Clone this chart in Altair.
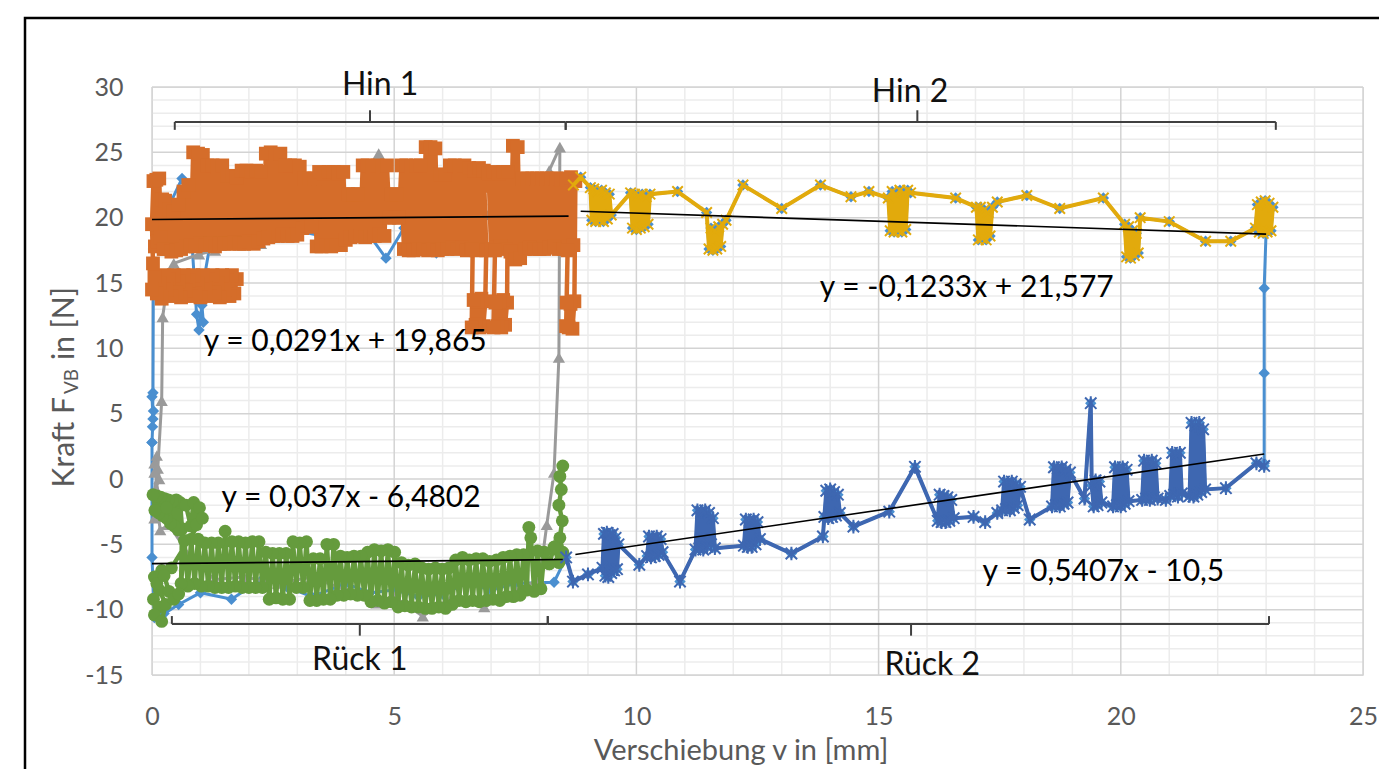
import altair as alt
import pandas as pd

FONT = "Lato"
GREY_TXT = "#595959"

# ---------------- data ----------------
# Hin 1 (orange squares): lower band near 15 N (x descending), then main band
HIN1_LOW_BAND = [
    (1.75, 15.3), (1.70, 14.2), (1.65, 15.6), (1.60, 14.0), (1.55, 15.2), (1.50, 14.5), (1.45, 15.6),
    (1.40, 13.9), (1.35, 15.0), (1.30, 14.3), (1.25, 15.6), (1.20, 14.0), (1.15, 15.3), (1.10, 14.6),
    (1.05, 15.6), (1.00, 13.9), (0.95, 15.0), (0.90, 14.2), (0.85, 15.6), (0.80, 14.0), (0.75, 15.2),
    (0.70, 14.4), (0.65, 15.6), (0.60, 13.9), (0.55, 15.1), (0.50, 14.3), (0.45, 15.6), (0.40, 14.0),
    (0.35, 15.3), (0.30, 14.5), (0.25, 15.6), (0.20, 13.8), (0.15, 15.0), (0.10, 14.2), (0.05, 15.5),
    (0.00, 14.5), (0.02, 16.5),
]
HIN1_MAIN = [
    (0.00, 19.5), (0.03, 22.8), (0.06, 17.8), (0.09, 22.9), (0.12, 18.2), (0.15, 23.0), (0.18, 18.5),
    (0.21, 21.4), (0.24, 17.6), (0.27, 21.3), (0.30, 17.6), (0.35, 20.6), (0.40, 17.4), (0.45, 20.5),
    (0.50, 17.5), (0.55, 21.0), (0.60, 17.6), (0.65, 22.0), (0.70, 17.8), (0.75, 22.5), (0.80, 17.9),
    (0.85, 25.0), (0.90, 17.8), (0.95, 24.9), (1.00, 18.0), (1.05, 24.8), (1.10, 17.9), (1.15, 24.0),
    (1.20, 18.0), (1.25, 24.0), (1.30, 17.8), (1.35, 23.9), (1.40, 18.0), (1.45, 24.0), (1.50, 18.0),
    (1.55, 23.2), (1.60, 18.0), (1.65, 23.2), (1.70, 18.1), (1.75, 23.1), (1.80, 18.0), (1.85, 23.6),
    (1.90, 18.0), (1.95, 23.6), (2.00, 18.2), (2.05, 23.5), (2.10, 18.0), (2.15, 23.6), (2.20, 18.2),
    (2.25, 23.5), (2.30, 18.4), (2.35, 24.9), (2.40, 18.5), (2.45, 25.0), (2.50, 18.6), (2.55, 24.8),
    (2.60, 18.6), (2.65, 24.9), (2.70, 18.7), (2.75, 24.0), (2.80, 18.6), (2.85, 24.0), (2.90, 18.6),
    (2.95, 24.0), (3.00, 18.7), (3.05, 23.9), (3.10, 19.2), (3.15, 23.0), (3.20, 19.4), (3.25, 23.0),
    (3.30, 19.3), (3.35, 23.0), (3.40, 17.8), (3.45, 23.5), (3.50, 17.8), (3.55, 23.4), (3.60, 17.9),
    (3.65, 23.5), (3.70, 17.8), (3.75, 23.5), (3.80, 17.9), (3.85, 23.4), (3.90, 17.9), (3.95, 23.5),
    (4.00, 18.3), (4.05, 21.8), (4.10, 18.5), (4.15, 21.8), (4.20, 18.6), (4.25, 21.8), (4.30, 18.6),
    (4.35, 24.0), (4.40, 18.5), (4.45, 24.0), (4.50, 18.6), (4.55, 23.9), (4.60, 18.6), (4.65, 24.0),
    (4.70, 18.7), (4.75, 23.9), (4.80, 18.6), (4.85, 24.0), (4.90, 20.0), (4.95, 21.8), (5.00, 20.0),
    (5.05, 21.8), (5.10, 20.0), (5.15, 24.0), (5.20, 17.6), (5.25, 24.0), (5.30, 17.5), (5.35, 23.9),
    (5.40, 17.5), (5.45, 24.0), (5.50, 17.6), (5.55, 24.0), (5.60, 17.6), (5.65, 25.4), (5.70, 17.5),
    (5.75, 25.4), (5.80, 17.6), (5.85, 25.3), (5.90, 17.5), (5.95, 23.3), (6.00, 17.6), (6.05, 23.3),
    (6.10, 17.6), (6.15, 24.0), (6.20, 17.7), (6.25, 24.0), (6.30, 17.6), (6.35, 23.9), (6.40, 17.7),
    (6.45, 24.0), (6.50, 17.5), (6.55, 23.8), (6.60, 17.6), (6.65, 23.6), (6.70, 17.5), (6.75, 23.8),
    (6.80, 17.6), (6.85, 23.6), (6.90, 17.5),
    # dip to 12 N (6.55 .. 6.9)
    (6.88, 13.6), (6.84, 11.7), (6.80, 13.8), (6.76, 11.6), (6.72, 13.6), (6.68, 11.8), (6.64, 13.7),
    (6.60, 11.6), (6.62, 17.6),
    (6.95, 23.4), (7.00, 17.6), (7.05, 23.5), (7.10, 17.7), (7.15, 23.4), (7.20, 17.8), (7.25, 23.5),
    (7.30, 17.6), (7.35, 23.5),
    # dip to 12 N (7.0 .. 7.35)
    (7.33, 13.5), (7.29, 11.8), (7.25, 13.7), (7.21, 11.6), (7.17, 13.6), (7.13, 11.7), (7.09, 13.5),
    (7.05, 11.6), (7.08, 17.5),
    (7.40, 17.4), (7.45, 25.5), (7.50, 16.8), (7.55, 25.4), (7.60, 16.9), (7.65, 23.0), (7.70, 17.6),
    (7.75, 23.0), (7.80, 17.7), (7.85, 23.0), (7.90, 17.6), (7.95, 23.0), (8.00, 17.6), (8.05, 23.0),
    (8.10, 17.6), (8.15, 23.0), (8.20, 17.7), (8.25, 23.0), (8.30, 17.8), (8.35, 23.0), (8.40, 17.6),
    (8.45, 22.9), (8.50, 17.6), (8.55, 23.0), (8.60, 17.8), (8.65, 23.1), (8.70, 17.9), (8.74, 22.8),
    # dip to 12 N at the end of Hin 1
    (8.72, 13.6), (8.68, 11.5), (8.64, 13.4), (8.60, 11.6), (8.56, 13.5), (8.55, 11.7), (8.58, 17.5),
]

# grey triangles: first cycle (0 .. 8.5 mm)
GRAY_CYCLE = [
    (0.05, 0.5), (0.10, 1.8), (0.15, 0.0), (0.05, -1.0), (0.12, 0.8), (0.20, 6.0), (0.22, 12.4),
    (0.30, 14.5), (0.45, 16.5), (0.97, 17.2), (1.30, 17.5), (1.85, 17.9), (2.25, 18.0), (2.60, 18.5),
    (3.00, 18.8), (3.50, 19.0), (4.00, 19.5), (4.40, 21.0), (4.68, 24.9), (4.90, 20.5), (5.50, 20.0),
    (6.00, 20.5), (6.50, 20.0), (7.00, 20.5), (7.50, 21.0), (8.00, 22.0), (8.20, 23.6), (8.42, 25.4),
    (8.40, 9.3), (8.30, 0.5), (8.15, -3.5), (8.00, -7.7), (7.50, -8.5), (6.86, -9.8), (6.20, -9.0),
    (5.59, -10.5), (5.00, -9.0), (4.64, -9.5), (4.00, -8.5), (3.30, -7.5), (2.60, -8.0), (1.90, -7.5),
    (1.29, -7.7), (0.80, -6.0), (0.35, -3.5), (0.17, -3.9), (0.10, -2.0), (0.05, -3.0), (0.12, -1.0),
    (0.05, 1.2),
]

# Hin 2 (yellow x markers)
HIN2 = [
    (8.70, 22.5), (8.85, 23.1), (9.05, 22.3),
    (9.08, 19.8), (9.12, 22.2), (9.16, 19.7), (9.20, 22.0), (9.24, 19.8), (9.28, 22.1), (9.32, 19.7),
    (9.36, 21.9), (9.40, 19.9), (9.44, 21.8), (9.48, 20.2),
    (9.88, 21.9), (9.92, 19.2), (9.96, 21.8), (10.00, 19.1), (10.04, 21.7), (10.08, 19.2), (10.12, 21.8),
    (10.16, 19.3), (10.20, 21.6), (10.24, 19.5), (10.28, 21.8),
    (10.85, 22.0), (11.45, 20.4),
    (11.50, 17.6), (11.54, 19.2), (11.58, 17.5), (11.62, 19.0), (11.66, 17.6), (11.70, 19.3),
    (11.74, 17.8), (11.78, 19.5), (11.85, 19.8),
    (12.20, 22.5), (13.00, 20.7), (13.80, 22.5), (14.43, 21.6), (14.80, 22.0), (15.20, 21.5),
    (15.24, 19.0), (15.28, 22.0), (15.32, 18.9), (15.36, 21.8), (15.40, 19.0), (15.44, 22.1),
    (15.48, 18.9), (15.52, 21.9), (15.56, 19.1), (15.60, 22.1), (15.66, 21.9),
    (16.59, 21.5), (17.02, 20.8),
    (17.06, 18.3), (17.10, 20.8), (17.14, 18.4), (17.18, 20.6), (17.22, 18.3), (17.26, 20.4),
    (17.30, 18.6), (17.35, 20.8), (17.45, 21.2),
    (18.06, 21.7), (18.74, 20.7), (19.64, 21.5), (20.08, 19.5),
    (20.12, 17.0), (20.16, 19.3), (20.20, 16.9), (20.24, 19.0), (20.28, 17.1), (20.32, 18.8),
    (20.36, 17.3), (20.40, 20.0),
    (21.00, 19.7), (21.75, 18.2), (22.27, 18.2), (22.78, 19.2),
    (22.82, 21.0), (22.86, 18.9), (22.90, 21.2), (22.94, 18.8), (22.98, 21.3), (23.02, 18.9),
    (23.06, 21.1), (23.10, 19.0), (23.14, 20.8), (23.00, 19.0),
]

# Rueck 1 (green circles), from x = 8.5 back to 0
RUECK1 = [
    (8.48, 1.0), (8.42, 0.2), (8.45, -0.8), (8.40, -2.0), (8.47, -3.2), (8.42, -4.5), (8.48, -5.6),
    (8.40, -6.4), (8.30, -5.2), (8.20, -6.5),
    (8.10, -5.6), (8.03, -8.4), (7.96, -5.5), (7.89, -8.6), (7.82, -4.5), (7.78, -3.7), (7.74, -8.5),
    (7.67, -5.8), (7.60, -8.9), (7.53, -5.8), (7.46, -9.0), (7.39, -5.9), (7.32, -9.0), (7.25, -6.0),
    (7.18, -9.3), (7.11, -6.2), (7.04, -9.2), (6.97, -6.3), (6.90, -9.3), (6.83, -6.1), (6.76, -9.4),
    (6.69, -6.1), (6.62, -9.3), (6.55, -6.2), (6.48, -9.4), (6.41, -6.0), (6.34, -9.3), (6.27, -6.2),
    (6.20, -9.6), (6.13, -6.8), (6.06, -9.9), (5.99, -6.9), (5.92, -9.8), (5.85, -6.8), (5.78, -9.9),
    (5.71, -6.9), (5.64, -9.9), (5.57, -6.8), (5.50, -9.8), (5.43, -6.5), (5.36, -9.8), (5.29, -6.6),
    (5.22, -9.7), (5.15, -6.4), (5.08, -9.8), (5.01, -5.6), (4.94, -9.4), (4.87, -5.4), (4.80, -9.5),
    (4.73, -5.5), (4.66, -9.3), (4.59, -5.4), (4.52, -9.4), (4.45, -5.6), (4.38, -8.9), (4.31, -5.9),
    (4.24, -8.9), (4.17, -5.9), (4.10, -8.8), (4.03, -6.0), (3.96, -8.9), (3.89, -5.9), (3.82, -8.9),
    (3.75, -5.0), (3.68, -9.2), (3.61, -5.0), (3.54, -9.2), (3.47, -6.1), (3.40, -9.3), (3.33, -6.1),
    (3.26, -9.3), (3.19, -4.8), (3.12, -8.3), (3.05, -4.9), (2.98, -8.3), (2.91, -4.8), (2.84, -9.2),
    (2.77, -5.7), (2.70, -9.2), (2.63, -5.7), (2.56, -9.1), (2.49, -5.7), (2.42, -9.2), (2.35, -5.6),
    (2.28, -8.3), (2.21, -4.8), (2.14, -8.3), (2.07, -4.8), (2.00, -8.3), (1.93, -4.9), (1.86, -8.3),
    (1.79, -4.8), (1.72, -8.2), (1.65, -4.8), (1.58, -8.3), (1.51, -4.0), (1.44, -8.3), (1.37, -4.9),
    (1.30, -8.3), (1.23, -4.9), (1.16, -8.2), (1.09, -4.9), (1.02, -8.2), (0.95, -4.6), (0.88, -8.0),
    (0.81, -4.6), (0.74, -8.2), (0.67, -4.7), (0.60, -8.0),
    # upper-left blob
    (0.62, -3.8), (0.58, -1.8), (0.54, -3.9), (0.50, -1.6), (0.46, -3.6), (0.42, -1.7), (0.38, -3.4),
    (0.34, -1.6), (0.30, -3.0), (0.26, -1.5), (0.22, -2.8), (0.18, -1.4), (0.14, -2.6), (0.10, -1.3),
    (0.06, -2.4), (0.02, -1.2), (0.30, -2.2), (0.70, -2.0), (0.80, -3.6), (0.86, -1.8), (0.92, -3.5),
    (0.98, -2.2), (1.04, -3.0),
    # lower-left blob
    (0.40, -6.8), (0.20, -7.0), (0.05, -7.5), (0.15, -8.5), (0.03, -9.2), (0.14, -9.8), (0.05, -10.4),
    (0.20, -10.9), (0.28, -9.6), (0.10, -8.0), (0.25, -7.4), (0.35, -8.6), (0.45, -9.2), (0.55, -8.8),
]

# Rueck 2 (dark blue star markers), from x = 8.5 to 23
RUECK2 = [
    (8.55, -6.0), (8.69, -7.85), (9.00, -7.3),
    (9.30, -6.8), (9.33, -4.2), (9.36, -7.4), (9.39, -4.1), (9.42, -7.5), (9.45, -4.3), (9.48, -7.2),
    (9.51, -4.2), (9.54, -7.0), (9.57, -4.5), (9.60, -6.9), (9.63, -5.0),
    (10.06, -6.57),
    (10.22, -5.9), (10.26, -4.4), (10.30, -6.0), (10.34, -4.5), (10.38, -5.9), (10.42, -4.4),
    (10.46, -5.8), (10.50, -4.6), (10.54, -5.6),
    (10.90, -7.85),
    (11.22, -5.4), (11.26, -2.4), (11.30, -5.3), (11.34, -2.5), (11.38, -5.4), (11.42, -2.4),
    (11.46, -5.2), (11.50, -2.6), (11.54, -5.0), (11.58, -3.0), (11.62, -5.3),
    (12.22, -5.1), (12.26, -3.1), (12.30, -5.2), (12.34, -3.2), (12.38, -5.2), (12.42, -3.1),
    (12.46, -5.0), (12.50, -3.3), (12.55, -4.6),
    (13.20, -5.7), (13.85, -4.4),
    (13.88, -2.9), (13.92, -0.9), (13.96, -3.0), (14.00, -0.8), (14.04, -2.9), (14.08, -1.0),
    (14.12, -2.8), (14.16, -1.2), (14.20, -2.6),
    (14.48, -3.64), (15.22, -2.5), (15.75, 0.93),
    (16.22, -3.2), (16.26, -1.2), (16.30, -3.3), (16.34, -1.3), (16.38, -3.3), (16.42, -1.4),
    (16.46, -3.2), (16.50, -1.6), (16.55, -3.0),
    (16.96, -2.9), (17.20, -3.3), (17.45, -2.6),
    (17.55, -2.4), (17.59, -0.2), (17.63, -2.3), (17.67, -0.3), (17.71, -2.4), (17.75, -0.2),
    (17.79, -2.2), (17.83, -0.4), (17.87, -2.0), (17.92, -0.6),
    (18.12, -3.1),
    (18.58, -2.1), (18.62, 0.9), (18.66, -2.0), (18.70, 0.8), (18.74, -2.1), (18.78, 0.9),
    (18.82, -1.9), (18.86, 0.7), (18.90, -1.8), (18.95, 0.5),
    (19.25, -1.5), (19.38, 5.8), (19.40, -0.5),
    (19.44, -2.1), (19.48, -0.1), (19.52, -2.0), (19.56, -0.2), (19.60, -1.8),
    (19.84, -2.1), (19.88, 0.9), (19.92, -2.0), (19.96, 0.8), (20.00, -2.1), (20.04, 0.9),
    (20.08, -1.9), (20.12, 0.7), (20.16, -1.7),
    (20.44, -1.6), (20.48, 1.4), (20.52, -1.5), (20.56, 1.3), (20.60, -1.6), (20.64, 1.4),
    (20.68, -1.4), (20.72, 1.2), (20.76, -1.5),
    (20.93, -1.6),
    (21.02, -1.3), (21.06, 2.0), (21.10, -1.2), (21.14, 1.9), (21.18, -1.35), (21.22, 2.0), (21.26, -1.1),
    (21.42, -1.3), (21.46, 4.3), (21.50, -1.35), (21.54, 4.1), (21.58, -1.2), (21.62, 4.3),
    (21.66, -1.0), (21.70, 3.8), (21.74, -0.8),
    (22.17, -0.7), (22.80, 1.2), (22.96, 1.0),
]

# light blue diamonds: the whole measurement (own points + Hin 2 + Rueck 2)
BLUE_START = [
    (0.00, 2.8), (0.02, 4.6), (0.00, 6.3), (0.03, 5.2), (0.01, 4.0), (0.02, 6.6), (0.03, 17.6),
    (0.30, 20.5), (0.62, 23.0), (0.80, 19.5), (0.92, 12.6), (0.97, 11.4), (1.03, 13.3), (1.06, 12.0),
    (1.00, 13.7), (1.20, 18.0), (1.60, 18.4), (2.10, 18.2), (2.48, 18.9), (3.00, 19.0), (3.50, 18.6),
    (4.00, 19.5), (4.50, 18.6), (4.83, 16.9), (5.20, 19.2), (5.87, 17.3), (6.30, 19.5), (7.00, 20.0),
    (7.50, 19.2), (8.00, 20.5), (8.50, 21.5),
]
BLUE_TURN = [(23.00, 19.0), (22.96, 14.6), (22.96, 8.1), (22.96, 1.2)]
BLUE_BACK = [
    (8.30, -7.9), (7.50, -8.0), (7.00, -8.5), (6.50, -8.0), (6.00, -8.8), (5.50, -9.0), (5.00, -8.5),
    (4.50, -8.7), (4.00, -8.0), (3.30, -9.0), (2.80, -8.3), (2.30, -7.6), (1.64, -9.2), (1.00, -8.7),
    (0.55, -9.6), (0.25, -10.3), (0.05, -10.6), (0.00, -6.0), (0.00, 2.8),
]

# linear trend lines (Excel equations)
TREND_SLOPE = [0.0291, 0.037, -0.1233, 0.5407]
TREND_INTERCEPT = [19.865, -6.4802, 21.577, -10.5]
TREND_X0 = [0.0, 0.0, 8.85, 8.74]
TREND_X1 = [8.6, 8.48, 23.0, 22.96]
EQ_TEXT = ["y = 0,0291x + 19,865", "y = 0,037x - 6,4802", "y = -0,1233x + 21,577", "y = 0,5407x - 10,5"]
EQ_X = [3.99, 4.11, 16.82, 19.64]
EQ_Y = [10.49, -1.45, 14.62, -7.11]

# brackets
BR_LABEL = ["Hin 1", "Hin 2", "Rück 1", "Rück 2"]
BR_X0 = [0.47, 8.54, 0.41, 8.17]
BR_X1 = [8.54, 23.2, 8.17, 23.06]
BR_XMID = [4.5, 15.8, 4.29, 15.67]
BR_Y = [27.32, 27.32, -11.09, -11.09]
BR_DIR = [1, 1, -1, -1]
BR_LABEL_X = [4.71, 15.65, 4.29, 16.11]
BR_LABEL_Y = [30.15, 29.65, -13.84, -14.22]

X_MAJOR = [0, 5, 10, 15, 20, 25]
Y_MAJOR = [-15, -10, -5, 0, 5, 10, 15, 20, 25, 30]
X_MINOR = [v for v in range(0, 26) if v % 5 != 0]
Y_MINOR = [v for v in range(-15, 31) if v % 5 != 0]

# ---------------- build tables ----------------
def table(points):
    return pd.DataFrame({"x": [p[0] for p in points], "y": [p[1] for p in points],
                         "i": list(range(len(points)))})

blue_df = table(BLUE_START + HIN2 + BLUE_TURN + RUECK2[::-1] + BLUE_BACK)
gray_df = table(GRAY_CYCLE)
orange_df = table(HIN1_LOW_BAND + HIN1_MAIN)
yellow_df = table(HIN2)
green_df = table(RUECK1)
dblue_df = table(RUECK2)

trend_df = pd.DataFrame({
    "x": TREND_X0, "x2": TREND_X1,
    "y": [m * a + b for m, a, b in zip(TREND_SLOPE, TREND_X0, TREND_INTERCEPT)],
    "y2": [m * a + b for m, a, b in zip(TREND_SLOPE, TREND_X1, TREND_INTERCEPT)],
})
eq_df = pd.DataFrame({"x": EQ_X, "y": EQ_Y, "t": EQ_TEXT})

seg = []
for x0, x1, xm, yl, d in zip(BR_X0, BR_X1, BR_XMID, BR_Y, BR_DIR):
    seg.append((x0, x1, yl, yl))
    seg.append((x0, x0, yl, yl - d * 0.6))
    seg.append((x1, x1, yl, yl - d * 0.6))
    seg.append((xm, xm, yl, yl + d * 0.9))
br_df = pd.DataFrame(seg, columns=["x", "x2", "y", "y2"])
brl_df = pd.DataFrame({"x": BR_LABEL_X, "y": BR_LABEL_Y, "t": BR_LABEL})

# ---------------- chart ----------------
XS = alt.Scale(domain=[0, 25], nice=False, zero=False)
YS = alt.Scale(domain=[-15, 30], nice=False, zero=False)

# identical axis objects on every layer so that the shared axes merge cleanly
X_AXIS = alt.Axis(values=X_MAJOR, grid=False, ticks=False, domain=False, labelPadding=29,
                  labelExpr="'' + datum.value", labelFlush=False, labelOverlap=False, title="")
Y_AXIS = alt.Axis(values=Y_MAJOR, grid=False, ticks=False, domain=False, labelPadding=29,
                  labelExpr="'' + datum.value", labelFlush=False, labelOverlap=False, title="")

def X():
    return alt.X("x:Q", scale=XS, axis=X_AXIS)

def Y():
    return alt.Y("y:Q", scale=YS, axis=Y_AXIS)

grid_minor_x = alt.Chart(pd.DataFrame({"x": X_MINOR})).mark_rule(color="#ececec", strokeWidth=1.5).encode(x=X())
grid_minor_y = alt.Chart(pd.DataFrame({"y": Y_MINOR})).mark_rule(color="#ececec", strokeWidth=1.5).encode(y=Y())
grid_major_x = alt.Chart(pd.DataFrame({"x": X_MAJOR})).mark_rule(color="#d3d3d3", strokeWidth=1.5).encode(x=X())
grid_major_y = alt.Chart(pd.DataFrame({"y": Y_MAJOR})).mark_rule(color="#d3d3d3", strokeWidth=1.5).encode(y=Y())

X_SHAPE = "M-1,-1L1,1M-1,1L1,-1"
STAR_SHAPE = "M-1,-1L1,1M-1,1L1,-1M0,-1.2L0,1.2"

def series(df, color, shape, size, filled=True, sw=1.5, lw=3):
    line = alt.Chart(df).mark_line(color=color, strokeWidth=lw).encode(x=X(), y=Y(), order="i:Q")
    if filled:
        pts = alt.Chart(df).mark_point(shape=shape, size=size, filled=True, color=color, opacity=1,
                                       strokeWidth=0)
    else:
        pts = alt.Chart(df).mark_point(shape=shape, size=size, filled=False, color=color, opacity=1,
                                       strokeWidth=sw)
    pts = pts.encode(x=X(), y=Y())
    return [line, pts]

one = pd.DataFrame({"a": [0]})
frame_rect = alt.Chart(one).mark_rect(
    filled=False, stroke="#000000", strokeWidth=2.5).encode(
    x=alt.value(-127), x2=alt.value(1260), y=alt.value(-69), y2=alt.value(720))

layers = [grid_minor_x, grid_minor_y, grid_major_x, grid_major_y]
layers += series(blue_df, "#4A8FD0", "diamond", 130)
layers += series(gray_df, "#9A9A9A", "triangle-up", 150)
layers += series(orange_df, "#D56D2A", "square", 190, lw=4.5)
layers += series(yellow_df, "#E2AA0C", X_SHAPE, 110, filled=False, sw=2, lw=4)
layers += series(green_df, "#659B3D", "circle", 165, lw=4.5)
layers += series(dblue_df, "#3E67B1", STAR_SHAPE, 130, filled=False, sw=2, lw=4)

trend = alt.Chart(trend_df).mark_rule(color="#000000", strokeWidth=1.6).encode(
    x=X(), x2="x2:Q", y=Y(), y2="y2:Q")
brackets = alt.Chart(br_df).mark_rule(color="#404040", strokeWidth=2).encode(
    x=X(), x2="x2:Q", y=Y(), y2="y2:Q")
eqs = alt.Chart(eq_df).mark_text(font=FONT, fontSize=30, color="#000000", align="center",
                                 baseline="middle").encode(x=X(), y=Y(), text="t:N")
brl = alt.Chart(brl_df).mark_text(font=FONT, fontSize=32, color="#111111", align="center",
                                  baseline="middle").encode(x=X(), y=Y(), text="t:N")

x_title = alt.Chart(one).mark_text(text="Verschiebung v in [mm]", font=FONT, fontSize=29,
                                   color=GREY_TXT, align="center", baseline="middle").encode(
    x=alt.value(589), y=alt.value(664))
yt1 = alt.Chart(one).mark_text(text="Kraft F", font=FONT, fontSize=30, color=GREY_TXT, angle=270,
                               align="right", baseline="middle").encode(x=alt.value(-87), y=alt.value(310))
yt2 = alt.Chart(one).mark_text(text="VB", font=FONT, fontSize=19, color=GREY_TXT, angle=270,
                               align="left", baseline="middle").encode(x=alt.value(-80), y=alt.value(307))
yt3 = alt.Chart(one).mark_text(text="in [N]", font=FONT, fontSize=30, color=GREY_TXT, angle=270,
                               align="left", baseline="middle").encode(x=alt.value(-87), y=alt.value(273))

layers += [trend, brackets, eqs, brl, x_title, yt1, yt2, yt3, frame_rect]

chart = alt.layer(*layers).properties(
    width=1211, height=588,
    padding={"left": 144, "top": 79, "right": 16, "bottom": 96},
    autosize=alt.AutoSizeParams(type="none"),
).configure_view(strokeWidth=0).configure(background="#ffffff").configure_axis(
    labelFont=FONT, labelFontSize=25, labelColor=GREY_TXT,
)

chart.save("out.html", embed_options={"renderer": "svg", "actions": False})
